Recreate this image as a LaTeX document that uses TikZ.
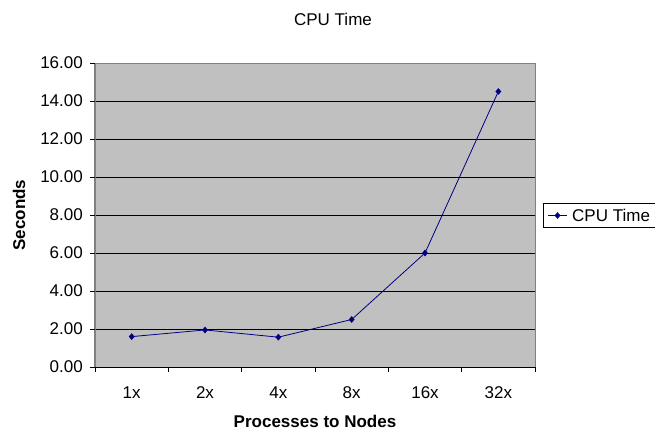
\documentclass[tikz,border=0pt]{standalone}
\usepackage{fontspec}
\setmainfont{Liberation Sans}
\usetikzlibrary{shapes.geometric}
\definecolor{plotgray}{HTML}{C0C0C0}
\definecolor{framegray}{HTML}{808080}
\definecolor{navyline}{HTML}{000080}
\begin{document}
\begin{tikzpicture}[x=1pt,y=-1pt,
  lbl/.style={font=\fontsize{17}{20}\selectfont, inner sep=0pt},
  ylbl/.style={lbl, anchor=east},
  xlbl/.style={lbl, anchor=center},
  grid/.style={black, line width=0.9pt},
  tickline/.style={black, line width=0.9pt},
  mk/.style={diamond, fill=navyline, inner sep=0pt, minimum width=6pt, minimum height=7pt},
  series/.style={navyline, line width=0.8pt}]
\useasboundingbox (0,0) rectangle (655,432);
% plot area
\fill[plotgray] (95,63) rectangle (535,367);
\foreach \v in {2,4,...,14} { \draw[grid] (95,{367-19*\v}) -- (535,{367-19*\v}); }
\draw[framegray, line width=0.9pt] (95,63) -- (535,63) -- (535,367);
\draw[framegray, line width=1.2pt] (95,63) -- (95,367);
\draw[tickline] (95,367) -- (535,367);
% y ticks and labels
\foreach \v/\t in {0/0.00,2/2.00,4/4.00,6/6.00,8/8.00,10/10.00,12/12.00,14/14.00,16/16.00} {
  \draw[tickline] (90,{367-19*\v}) -- (95,{367-19*\v});
  \node[ylbl] (y\v) at (83,{367-19*\v}) {\t};
}
% x ticks
\foreach \i in {0,...,6} { \draw[tickline] ({95+73.333*\i},367) -- ({95+73.333*\i},372); }
% x labels
\foreach \i/\t in {0/1x,1/2x,2/4x,3/8x,4/16x,5/32x} {
  \node[xlbl] (x\i) at ({131.67+73.333*\i},393) {\t};
}
% data
\coordinate (p0) at (131.67,{367-19*1.6});
\coordinate (p1) at (205.0,{367-19*1.95});
\coordinate (p2) at (278.33,{367-19*1.57});
\coordinate (p3) at (351.67,{367-19*2.5});
\coordinate (p4) at (425.0,{367-19*6.0});
\coordinate (p5) at (498.33,{367-19*14.5});
\draw[series] (p0) -- (p1) -- (p2) -- (p3) -- (p4) -- (p5);
\foreach \i in {0,...,5} { \node[mk] (m\i) at (p\i) {}; }
% titles
\node[lbl] (title) at (333,19) {CPU Time};
\node[lbl, font=\fontsize{17}{20}\selectfont\bfseries, rotate=90] (ytitle) at (19,215) {Seconds};
\node[lbl, font=\fontsize{17}{20}\selectfont\bfseries] (xtitle) at (315,421) {Processes to Nodes};
% legend
\draw[black, line width=0.8pt] (543,203) rectangle (658,227);
\coordinate (l0) at (548,215.5);
\coordinate (l1) at (567,215.5);
\draw[series] (l0) -- (l1);
\node[mk] (lm) at (557.5,215.5) {};
\node[lbl, anchor=west] (legtext) at (572,215.5) {CPU Time};
\end{tikzpicture}
\end{document}
